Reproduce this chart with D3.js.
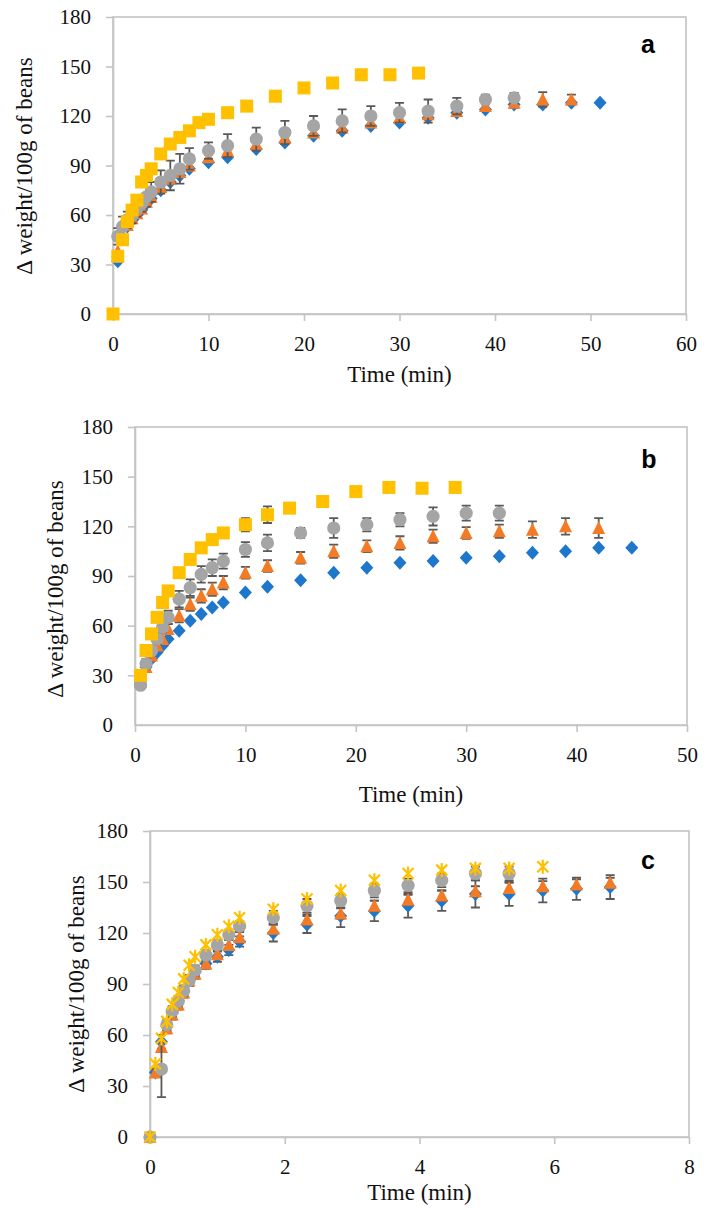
<!DOCTYPE html>
<html><head><meta charset="utf-8">
<script src="https://cdn.jsdelivr.net/npm/d3@7"></script>
<style>body{margin:0;background:#fff} svg{display:block}</style>
</head><body>
<svg id="chart" width="710" height="1212"></svg>
<script>
// ---------- shared ----------
const yTicks = [0, 30, 60, 90, 120, 150, 180];
const yTitle = "\u0394 weight/100g of beans";
const xTitle = "Time (min)";

// ---------- panel a ----------
const aXTicks = [0, 10, 20, 30, 40, 50, 60];
const aTime = [0.5,1,1.5,2,2.5,3,3.5,4,5,6,7,8,10,12,15,18,21,24,27,30,33,36,39,42,45,48,51];
const aBlue = [32,46,53,57,60,63,67,70,75,80,84,88,92,95,100,104,108,111,114,116,119,122,124,127,127,128,128];
const aOrange = [38,48,54,58,61,64,68,71,77,82,86,90,95,99,103,107,110,113,116,119,121,123,126,128,130,130];
const aOrangeErr = [0,0,0,0,0,0,0,0,0,0,0,0,0,0,0,0,0,0,0,0,0,0,0,3,4.5,3];
const aGray = [47,53,57,60,64,67,71,74,80,84,88,94,99,102,106,110,114,117,120,122,123,126,130,131];
const aGrayErr = [5,6,5,5,5,5,6,6,7,9,9,6.5,5,7,7,7,6,7,6,6,7,5,3,3];
const aYellowTime = [0,0.5,1,1.5,2,2.5,3,3.5,4,5,6,7,8,9,10,12,14,17,20,23,26,29,32];
const aYellow = [0,35,45,56,63,69,80,84,88,97,103,107,111,116,118,122,126,132,137,140,145,145,146];

// ---------- panel b ----------
const bXTicks = [0, 10, 20, 30, 40, 50];
const bTime = [0.5,1,1.5,2,2.5,3,4,5,6,7,8,10,12,15,18,21,24,27,30,33,36,39,42,45];
const bBlue = [25,35,40,44,48,52,57,63,67,71,74,80,83.5,87.5,92,95,98,99,101,102,104,105,107,107];
const bOrange = [26,35,42,48,52,58,66,73,78,82,86,92,96,101,105,108,110,114,116,117,118,120,119];
const bOrangeErr = [2,2,3,3,3,3,4,4,4,4,4,3.5,3.5,3.5,4,3.5,4,4,3.5,4,5,5,6];
const bGray = [24,37,45,52,59,65,76,83,91,95,99,106,110,116,119,121,124,126,128,128];
const bGrayErr = [2,3,3,3,3,4,5,5,5,5,4.5,4.5,5,3,6,4,4,5.5,4.5,4.5];
const bYellowTime = [0.5,1,1.5,2,2.5,3,4,5,6,7,8,10,12,14,17,20,23,26,29];
const bYellow = [30,45,55,65,74,81,92,100,107,112,116,121,127,131,135,141,143.5,143,143.5];
const bYellowErr = [0,0,0,0,0,0,0,0,0,0,0,4,5,0,0,0,0,0,0];

// ---------- panel c ----------
const cXTicks = [0, 2, 4, 6, 8];
const cTime = [0,0.08,0.17,0.25,0.33,0.42,0.5,0.58,0.67,0.83,1,1.17,1.33,1.83,2.33,2.83,3.33,3.83,4.33,4.83,5.33,5.83,6.33,6.83];
const cBlue = [0,38,56,65,73,80,86,92,97,102,106,110,115,120,125,130,133,136,139,143,143,145,146,147];
const cBlueErr = [0,2,4,3,3,3,3,3,3,3,3,3,3,5,5,6.5,6,7,6,8,7,7,6.5,7];
const cOrange = [0,38,53,64,72,78,85,92,96,102,107.5,113,117.5,122.5,128,131.5,136,139.5,142,144.5,146.5,147.5,148.5,149.5];
const cOrangeErr = [0,2,3,3,3,3,3,3,3,3,3,3,3,3,3,3,3,3,3,3,3,3,3,3];
const cGray = [0,null,40,66,74,80,86,92,98,107,113,119,124,129,136,139,145,148,151,155,155];
const cGrayErr = [0,0,16.5,3,3,3,3,3,3,3,3,3,3,4,4,4,4,4,4,4,4];
const cYellow = [0,43,58,68,78,85,93,101,106,113,119,124,129,134,140,145,151,155,157,158,158,159];

// ---------- styling ----------
const COL = {blue:"#1f77cc", orange:"#f47b26", gray:"#a5a5a5", yellow:"#ffc000", err:"#595959", axis:"#c4c4c4"};
const FONT = "'Liberation Serif', 'Times New Roman', serif";

function series(t, v, e, shape, color) {
  return t.map((x, i) => ({x, y: v[i], e: e ? (e[i] || 0) : 0}))
          .filter(d => d.y !== undefined && d.y !== null)
          .map(d => Object.assign(d, {shape, color}));
}

const panels = [
  {box:{l:113,r:686,t:17,b:314}, xMax:60, xTicks:aXTicks, yLab:{x:24,y:166}, xLab:{y:374}, letter:"a", let:{x:648,y:53},
   series:[series(aTime,aBlue,null,"diamond",COL.blue), series(aTime,aOrange,aOrangeErr,"triangle",COL.orange),
           series(aTime,aGray,aGrayErr,"circle",COL.gray), series(aYellowTime,aYellow,null,"square",COL.yellow)]},
  {box:{l:135,r:687,t:427,b:725}, xMax:50, xTicks:bXTicks, yLab:{x:55,y:589}, xLab:{y:794}, letter:"b", let:{x:649,y:468},
   series:[series(bTime,bBlue,null,"diamond",COL.blue), series(bTime,bOrange,bOrangeErr,"triangle",COL.orange),
           series(bTime,bGray,bGrayErr,"circle",COL.gray), series(bYellowTime,bYellow,bYellowErr,"square",COL.yellow)]},
  {box:{l:150,r:689,t:831,b:1137}, xMax:8, xTicks:cXTicks, yLab:{x:76,y:984}, xLab:{y:1192}, letter:"c", let:{x:648,y:869},
   series:[series(cTime,cBlue,cBlueErr,"diamond",COL.blue), series(cTime,cOrange,cOrangeErr,"triangle",COL.orange),
           series(cTime,cGray,cGrayErr,"circle",COL.gray), series(cTime,cYellow,null,"star",COL.yellow)]}
];

const svg = d3.select("#chart");

function drawMarker(g, d, x, y) {
  const cx = x(d.x), cy = y(d.y);
  if (d.shape === "diamond") {
    g.append("path").attr("d", `M${cx},${cy-7}L${cx+6.5},${cy}L${cx},${cy+7}L${cx-6.5},${cy}Z`).attr("fill", d.color);
  } else if (d.shape === "triangle") {
    g.append("path").attr("d", `M${cx},${cy-7}L${cx+6.5},${cy+6}L${cx-6.5},${cy+6}Z`).attr("fill", d.color);
  } else if (d.shape === "circle") {
    g.append("circle").attr("cx", cx).attr("cy", cy).attr("r", 6.6).attr("fill", d.color);
  } else if (d.shape === "square") {
    g.append("rect").attr("x", cx-6.5).attr("y", cy-6.5).attr("width", 13).attr("height", 13).attr("fill", d.color);
  } else if (d.shape === "star") {
    const s = 5.5;
    g.append("path").attr("d", `M${cx-s},${cy-s}L${cx+s},${cy+s}M${cx+s},${cy-s}L${cx-s},${cy+s}M${cx},${cy-7}L${cx},${cy+7}`)
      .attr("stroke", d.color).attr("stroke-width", 2.2).attr("fill", "none");
  }
}

panels.forEach(p => {
  const B = p.box;
  const x = d3.scaleLinear().domain([0, p.xMax]).range([B.l, B.r]);
  const y = d3.scaleLinear().domain([0, 180]).range([B.b, B.t]);
  const g = svg.append("g");

  // plot frame
  g.append("rect").attr("x", B.l).attr("y", B.t).attr("width", B.r - B.l).attr("height", B.b - B.t)
    .attr("fill", "none").attr("stroke", COL.axis).attr("stroke-width", 1.6);

  const yAxis = g.append("g").attr("transform", `translate(${B.l},0)`)
    .call(d3.axisLeft(y).tickValues(yTicks).tickSize(7).tickPadding(15).tickSizeOuter(0));
  const xAxis = g.append("g").attr("transform", `translate(0,${B.b})`)
    .call(d3.axisBottom(x).tickValues(p.xTicks).tickSize(7).tickPadding(15).tickSizeOuter(0));
  [yAxis, xAxis].forEach(a => {
    a.select(".domain").attr("stroke", COL.axis).attr("stroke-width", 1.6);
    a.selectAll(".tick line").attr("stroke", COL.axis).attr("stroke-width", 1.6);
    a.selectAll(".tick text").attr("fill", "#111").style("font-family", FONT).style("font-size", "21px");
  });
  yAxis.selectAll(".tick").filter(d => d === 0).select("line").remove();

  // titles
  g.append("text").attr("x", (B.l + B.r) / 2).attr("y", p.xLab.y).attr("text-anchor", "middle")
    .attr("dominant-baseline", "central").style("font-family", FONT).style("font-size", "23px").attr("fill", "#111").text(xTitle);
  g.append("text").attr("transform", `translate(${p.yLab.x},${p.yLab.y}) rotate(-90)`).attr("text-anchor", "middle")
    .attr("dominant-baseline", "central").style("font-family", FONT).style("font-size", "23px").attr("fill", "#111").text(yTitle);
  g.append("text").attr("x", p.let.x).attr("y", p.let.y).attr("text-anchor", "middle")
    .style("font-family", "'Liberation Sans', Arial, sans-serif").style("font-weight", "bold").style("font-size", "25px")
    .attr("fill", "#000").text(p.letter);

  // series: error bars then markers, in series order
  p.series.forEach(s => {
    const eg = g.append("g");
    s.filter(d => d.e > 0).forEach(d => {
      const cx = x(d.x), y1 = y(d.y - d.e), y2 = y(d.y + d.e);
      eg.append("path").attr("d", `M${cx},${y1}L${cx},${y2}M${cx-4.5},${y1}L${cx+4.5},${y1}M${cx-4.5},${y2}L${cx+4.5},${y2}`)
        .attr("stroke", COL.err).attr("stroke-width", 1.8).attr("fill", "none");
    });
    const mg = g.append("g");
    s.forEach(d => drawMarker(mg, d, x, y));
  });
});
</script>
</body></html>
